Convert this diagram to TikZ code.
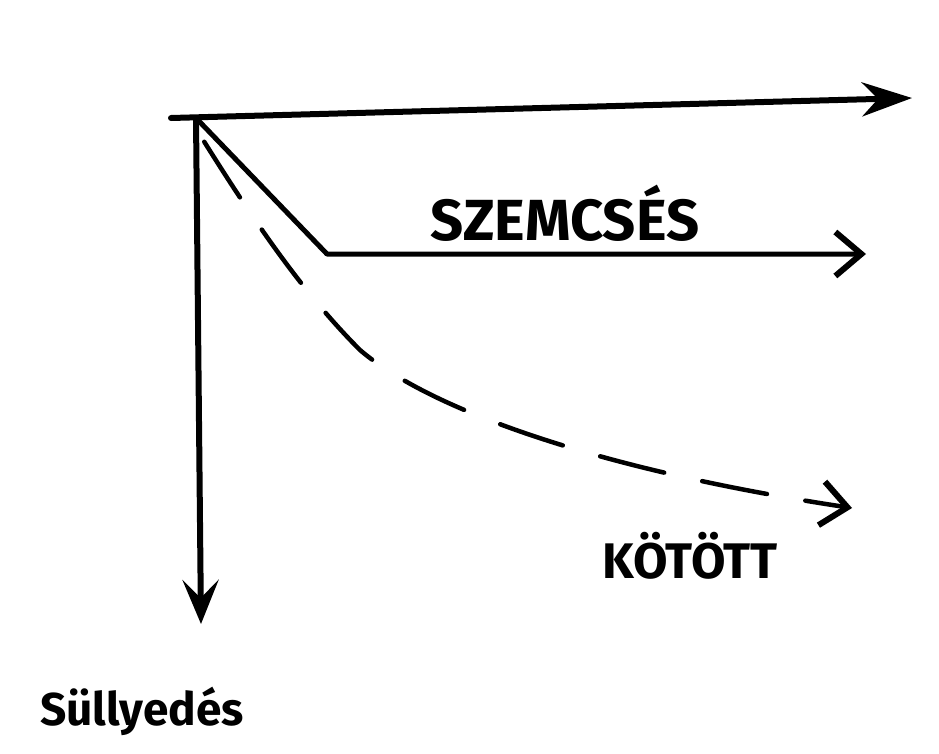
\documentclass[tikz,border=0pt]{standalone}
\usepackage{fontspec}
\setmainfont{Fira Sans}
\usetikzlibrary{arrows.meta}
\begin{document}
\begin{tikzpicture}[x=1pt,y=-1pt,
  axis/.style={line width=6pt,line cap=round,line join=round},
  curve/.style={line width=5pt,line cap=round,line join=round},
  chev/.style={-{Straight Barb[length=26pt,width=44pt,line width=6pt]}},
  lbl/.style={font=\bfseries\fontsize{58}{58}\selectfont,inner sep=0pt}]
\useasboundingbox (0,0) rectangle (939,753);
\coordinate (O) at (196,118);
\coordinate (Xs) at (171,118);
\coordinate (Xe) at (912,98);
\coordinate (Ye) at (201,624);
\coordinate (K) at (327,254);
\coordinate (Ge) at (866,254);
\coordinate (Ds) at (200,135);
\coordinate (Dm) at (360,350);
\coordinate (De) at (852,508);
\draw[axis,-{Stealth[length=50pt,width=34pt,inset=16pt]}] (Xs) -- (Xe);
\draw[axis,-{Stealth[length=44pt,width=36pt,inset=18pt]}] (O) -- (Ye);
\draw[curve,chev] (O) -- (K) -- (Ge);
\draw[curve,line width=4.5pt,chev,dash pattern=on 66pt off 39pt,dash phase=-8pt]
  (Ds) .. controls (250,215) and (300,290) .. (Dm)
       .. controls (430,410) and (600,470) .. (De);
\node[lbl,anchor=base] (g) at (565,240) {SZEMCSÉS};
\node[lbl,anchor=base,font=\bfseries\fontsize{50}{50}\selectfont] (k) at (690,578) {KÖTÖTT};
\node[lbl,anchor=base,font=\bfseries\fontsize{46}{46}\selectfont] (s) at (142,725) {Süllyedés};
\end{tikzpicture}
\end{document}
